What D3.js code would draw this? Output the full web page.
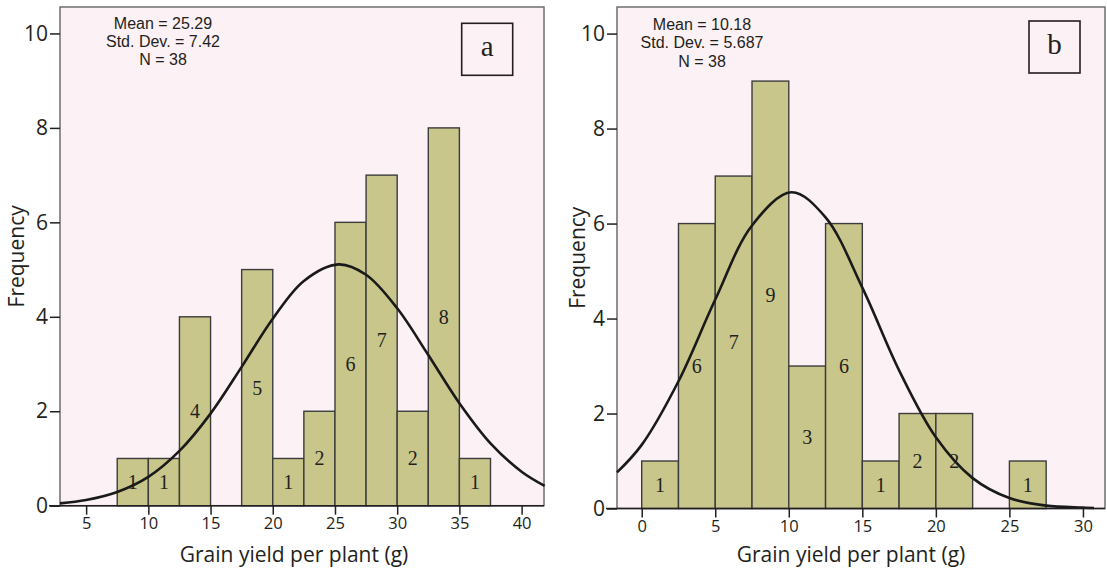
<!DOCTYPE html>
<html>
<head>
<meta charset="utf-8">
<script src="https://cdn.jsdelivr.net/npm/d3@7"></script>
<style>
  body { margin: 0; background: #fff; }
  svg text { font-family: "Open Sans", sans-serif; fill: #231f20; }
</style>
</head>
<body>
<div id="chart"></div>
<script>
// histogram a
var binsA = [7.5, 10, 12.5, 15, 17.5, 20, 22.5, 25, 27.5, 30, 32.5, 35];
var countsA = [1, 1, 4, 0, 5, 1, 2, 6, 7, 2, 8, 1];
var statsA = ["Mean = 25.29", "Std. Dev. = 7.42", "N = 38"];
var xTicksA = [5, 10, 15, 20, 25, 30, 35, 40];
// normal curve a
var curveXA = [2.9, 5, 7.5, 10, 12.5, 15, 17.5, 20, 22.5, 25.29, 27.5, 30, 32.5, 35, 37.5, 40, 41.85];
var curveYA = [0.05, 0.12, 0.29, 0.61, 1.16, 1.95, 2.94, 3.96, 4.76, 5.11, 4.89, 4.18, 3.19, 2.17, 1.32, 0.72, 0.42];

// histogram b
var binsB = [0, 2.5, 5, 7.5, 10, 12.5, 15, 17.5, 20, 22.5, 25];
var countsB = [1, 6, 7, 9, 3, 6, 1, 2, 2, 0, 1];
var statsB = ["Mean = 10.18", "Std. Dev. = 5.687", "N = 38"];
var xTicksB = [0, 5, 10, 15, 20, 25, 30];
var curveXB = [-1.68, 0, 2.5, 5, 7.5, 10.18, 12.5, 15, 17.5, 20, 22.5, 25, 27.5, 30, 30.75];
var curveYB = [0.76, 1.34, 2.68, 4.40, 5.96, 6.66, 6.13, 4.65, 2.91, 1.50, 0.64, 0.22, 0.06, 0.02, 0.01];

var yTicks = [0, 2, 4, 6, 8, 10];
var binWidth = 2.5;

var width = 1107, height = 572;

var svg = d3.select("#chart")
    .append("svg")
    .attr("width", width)
    .attr("height", height);

function drawPanel(p) {
    var x = d3.scaleLinear().domain(p.xDomain).range([p.left, p.right]);
    var y = d3.scaleLinear().domain([0, 10.56]).range([p.bottom, p.top]);

    var g = svg.append("g");

    // plot background
    g.append("rect")
        .attr("x", p.left)
        .attr("y", p.top)
        .attr("width", p.right - p.left)
        .attr("height", p.bottom - p.top)
        .attr("fill", "#fcf1f5")
        .attr("stroke", "#6d6e71")
        .attr("stroke-width", 1.5);

    var bars = p.bins.map(function(b, i) { return {x0: b, n: p.counts[i]}; })
        .filter(function(d) { return d.n > 0; });

    g.selectAll(".bar")
        .data(bars)
        .enter()
        .append("rect")
        .attr("class", "bar")
        .attr("x", function(d) { return x(d.x0); })
        .attr("y", function(d) { return y(d.n); })
        .attr("width", function(d) { return x(d.x0 + binWidth) - x(d.x0); })
        .attr("height", function(d) { return y(0) - y(d.n); })
        .attr("fill", "#c9c68b")
        .attr("stroke", "#3c3c3c")
        .attr("stroke-width", 1.4);

    g.selectAll(".barlabel")
        .data(bars)
        .enter()
        .append("text")
        .attr("class", "barlabel")
        .attr("x", function(d) { return x(d.x0 + binWidth / 2); })
        .attr("y", function(d) { return y(d.n / 2); })
        .attr("dy", "0.35em")
        .attr("text-anchor", "middle")
        .style("font-family", "'Liberation Serif', serif")
        .style("font-size", "20px")
        .text(function(d) { return d.n; });

    // normal curve
    var line = d3.line()
        .x(function(d) { return x(d[0]); })
        .y(function(d) { return y(d[1]); })
        .curve(d3.curveCatmullRom);
    g.append("path")
        .datum(p.curveX.map(function(v, i) { return [v, p.curveY[i]]; }))
        .attr("d", line)
        .attr("fill", "none")
        .attr("stroke", "#1a1a1a")
        .attr("stroke-width", 2.6);

    // axes
    var xAxis = g.append("g")
        .attr("transform", "translate(0," + p.bottom + ")")
        .call(d3.axisBottom(x).tickValues(p.xTicks).tickSize(9).tickPadding(3));
    xAxis.select(".domain").remove();
    xAxis.selectAll("line").attr("stroke", "#231f20").attr("stroke-width", 1.5);
    xAxis.selectAll("text").style("font-size", "16.5px").attr("fill", "#231f20");

    g.append("line")
        .attr("x1", p.left - 11)
        .attr("x2", p.right)
        .attr("y1", p.bottom)
        .attr("y2", p.bottom)
        .attr("stroke", "#231f20")
        .attr("stroke-width", 1.6);

    var yAxis = g.append("g")
        .attr("transform", "translate(" + p.left + ",0)")
        .call(d3.axisLeft(y).tickValues(yTicks).tickSize(10).tickPadding(2));
    yAxis.select(".domain").remove();
    yAxis.selectAll("line").attr("stroke", "#231f20").attr("stroke-width", 1.5);
    yAxis.selectAll("text").style("font-size", "21px").attr("fill", "#231f20");

    g.append("text")
        .attr("x", p.titleX)
        .attr("y", 562)
        .attr("text-anchor", "middle")
        .style("font-size", "21px")
        .text("Grain yield per plant (g)");

    g.append("text")
        .attr("transform", "translate(" + p.yTitleX + "," + ((p.top + p.bottom) / 2) + ") rotate(-90)")
        .attr("text-anchor", "middle")
        .style("font-size", "21px")
        .text("Frequency");

    g.selectAll(".stat")
        .data(p.stats)
        .enter()
        .append("text")
        .attr("class", "stat")
        .attr("x", p.statX)
        .attr("y", function(d, i) { return p.statY + i * 18.4; })
        .attr("text-anchor", "middle")
        .style("font-family", "'Liberation Sans', sans-serif")
        .style("font-size", "16px")
        .text(function(d) { return d; });

    // panel letter box
    g.append("rect")
        .attr("x", p.box[0])
        .attr("y", p.box[1])
        .attr("width", 51)
        .attr("height", 52)
        .attr("fill", "none")
        .attr("stroke", "#231f20")
        .attr("stroke-width", 1.6);
    g.append("text")
        .attr("x", p.box[0] + 25.5)
        .attr("y", p.box[1] + 33)
        .attr("text-anchor", "middle")
        .style("font-family", "'Liberation Serif', serif")
        .style("font-size", "29px")
        .text(p.letter);
}

drawPanel({
    left: 60, right: 544, top: 7, bottom: 505.7, xDomain: [2.9, 41.8],
    bins: binsA, counts: countsA, curveX: curveXA, curveY: curveYA,
    xTicks: xTicksA, stats: statsA, statX: 163, statY: 28.5,
    titleX: 294, yTitleX: 24, box: [461.7, 23.3], letter: "a"
});

drawPanel({
    left: 617, right: 1105, top: 7, bottom: 508.5, xDomain: [-1.68, 31.5],
    bins: binsB, counts: countsB, curveX: curveXB, curveY: curveYB,
    xTicks: xTicksB, stats: statsB, statX: 702, statY: 30,
    titleX: 851, yTitleX: 585, box: [1029, 21], letter: "b"
});
</script>
</body>
</html>
